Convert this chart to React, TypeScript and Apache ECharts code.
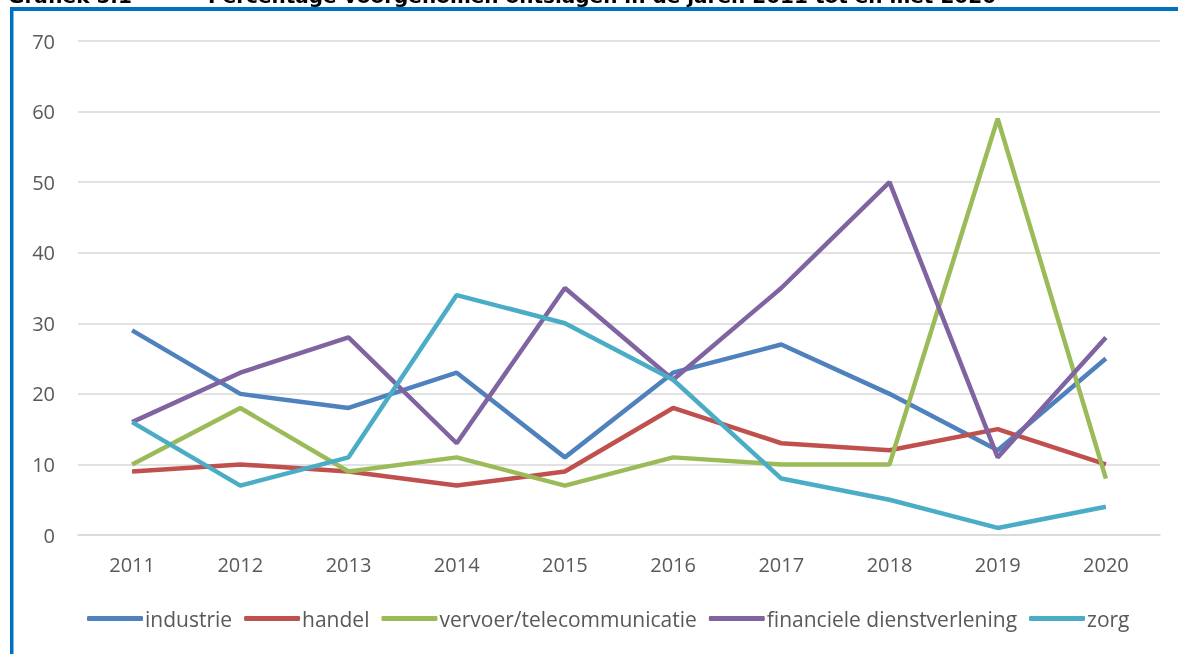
import React, { useEffect, useRef } from "react";
import * as echarts from "echarts";

const years = ["2011", "2012", "2013", "2014", "2015", "2016", "2017", "2018", "2019", "2020"];
const industrie = [29, 20, 18, 23, 11, 23, 27, 20, 12, 25];
const handel = [9, 10, 9, 7, 9, 18, 13, 12, 15, 10];
const vervoer = [10, 18, 9, 11, 7, 11, 10, 10, 59, 8];
const financiele = [16, 23, 28, 13, 35, 22, 35, 50, 11, 28];
const zorg = [16, 7, 11, 34, 30, 22, 8, 5, 1, 4];

const seriesNames = ["industrie", "handel", "vervoer/telecommunicatie", "financiele dienstverlening", "zorg"];
const seriesData = [industrie, handel, vervoer, financiele, zorg];
const colors = ["#4F81BD", "#C0504D", "#9BBB59", "#8064A2", "#4BACC6"];

const titleLeft = "Grafiek 5.1";
const titleRight = "Percentage voorgenomen ontslagen in de jaren 2011 tot en met 2020";

const FONT = "Open Sans";
const TFONT = "DejaVu Sans";

export default function App() {
  const ref = useRef<HTMLDivElement>(null);
  useEffect(() => {
    if (!ref.current) return;
    const chart = echarts.init(ref.current, null, { renderer: "svg" });
    chart.setOption({
      animation: false,
      textStyle: { fontFamily: FONT },
      color: colors,
      grid: { left: 78, right: 18, top: 41, bottom: 119 },
      xAxis: {
        type: "category",
        data: years,
        boundaryGap: true,
        axisLine: { lineStyle: { color: "#D9D9D9", width: 1.5 } },
        axisTick: { show: false },
        axisLabel: { color: "#595959", fontSize: 20, fontFamily: FONT, margin: 19 },
      },
      yAxis: {
        type: "value",
        min: 0,
        max: 70,
        interval: 10,
        axisLine: { show: false },
        axisTick: { show: false },
        splitLine: { lineStyle: { color: "#D9D9D9", width: 1.5 } },
        axisLabel: { color: "#595959", fontSize: 20, fontFamily: FONT, margin: 23 },
      },
      legend: {
        top: 603,
        left: 82,
        itemWidth: 56,
        itemHeight: 5,
        itemGap: 12,
        icon: "roundRect",
        textStyle: { color: "#595959", fontSize: 21, fontFamily: FONT, padding: [0, 0, 0, -3] },
        data: seriesNames,
      },
      series: seriesNames.map((n, i) => ({
        name: n,
        type: "line",
        data: seriesData[i],
        symbol: "none",
        lineStyle: { width: 4.5, color: colors[i] },
        itemStyle: { color: colors[i] },
      })),
      graphic: [
        { type: "rect", shape: { x: 10, y: 7, width: 1168, height: 4 }, style: { fill: "#0070C0" } },
        { type: "rect", shape: { x: 10, y: 7, width: 3.5, height: 647 }, style: { fill: "#0070C0" } },
        {
          type: "text",
          left: 8,
          top: -14,
          style: { text: titleLeft, fill: "#000", font: `bold 20px ${TFONT}` },
        },
        {
          type: "text",
          left: 208,
          top: -14,
          style: { text: titleRight, fill: "#000", font: `bold 20px ${TFONT}` },
        },
      ],
    });
    return () => chart.dispose();
  }, []);
  return <div ref={ref} style={{ position: "fixed", left: 0, top: 0, width: 1178, height: 654 }} />;
}
